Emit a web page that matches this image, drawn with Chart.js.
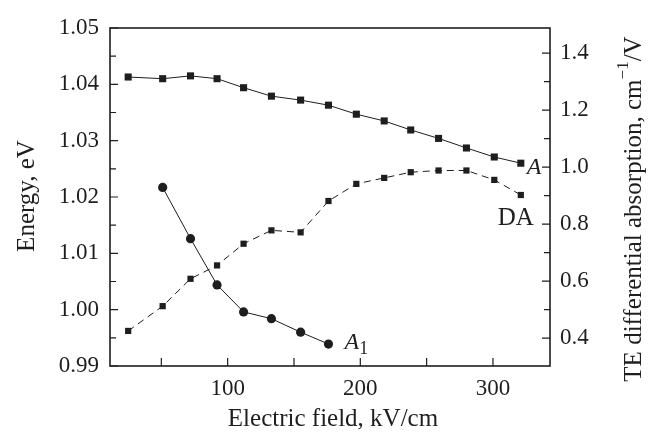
<!DOCTYPE html>
<html>
<head>
<meta charset="utf-8">
<script src="https://cdn.jsdelivr.net/npm/chart.js@4"></script>
<style>
  html, body { margin: 0; padding: 0; background: #fff; }
  #wrap { width: 652px; height: 436px; }
</style>
</head>
<body>
<div id="wrap"><canvas id="chart" width="652" height="436"></canvas></div>
<script>
// electric field, kV/cm
const fieldA = [25, 51, 72, 92, 112, 133, 155, 176, 197, 218, 238, 259, 280, 301, 321];
const fieldA1 = [51, 72, 92, 112, 133, 155, 176];
// energy, eV
const energyA = [1.0413, 1.0410, 1.0415, 1.0410, 1.0394, 1.0379, 1.0372, 1.0363, 1.0347, 1.0335, 1.0319, 1.0304, 1.0287, 1.0271, 1.0260];
const energyA1 = [1.0217, 1.0126, 1.0044, 0.9996, 0.9984, 0.9960, 0.9939];
// TE differential absorption, cm^-1/V
const absorptionDA = [0.425, 0.512, 0.608, 0.655, 0.731, 0.778, 0.771, 0.881, 0.941, 0.962, 0.982, 0.988, 0.988, 0.955, 0.902];

const xTicks = [100, 200, 300];
const xMinor = [50, 150, 250];
const leftTicks = [0.99, 1.00, 1.01, 1.02, 1.03, 1.04, 1.05];
const rightTicks = [0.4, 0.6, 0.8, 1.0, 1.2, 1.4];

const ink = '#1e1e1e';
const serif = '"Liberation Serif", "DejaVu Serif", serif';

const toPoints = (xs, ys) => xs.map((x, i) => ({ x: x, y: ys[i] }));
const midpoints = (arr) => arr.slice(1).map((v, i) => (v + arr[i]) / 2);

const frame = {
  id: 'frame',
  afterDraw(chart) {
    const { ctx, chartArea: a, scales } = chart;
    ctx.save();
    ctx.strokeStyle = ink;
    ctx.lineWidth = 1.6;
    ctx.strokeRect(a.left, a.top, a.right - a.left, a.bottom - a.top);
    ctx.lineWidth = 1.2;
    ctx.beginPath();
    const tick = (len) => (v) => {
      const px = scales.x.getPixelForValue(v);
      ctx.moveTo(px, a.bottom); ctx.lineTo(px, a.bottom - len);
    };
    xTicks.forEach(tick(8));
    xMinor.forEach(tick(8));
    const lt = (len) => (v) => {
      const py = scales.y.getPixelForValue(v);
      ctx.moveTo(a.left, py); ctx.lineTo(a.left + len, py);
    };
    leftTicks.forEach(lt(8));
    midpoints(leftTicks).forEach(lt(6));
    const rt = (len) => (v) => {
      const py = scales.y2.getPixelForValue(v);
      ctx.moveTo(a.right, py); ctx.lineTo(a.right - len, py);
    };
    rightTicks.forEach(rt(8));
    midpoints(rightTicks).forEach(rt(6));
    ctx.stroke();

    ctx.fillStyle = ink;
    // curve labels
    const lastA = chart.getDatasetMeta(0).data[fieldA.length - 1];
    const lastDA = chart.getDatasetMeta(1).data[fieldA.length - 1];
    const lastA1 = chart.getDatasetMeta(2).data[fieldA1.length - 1];
    ctx.textBaseline = 'alphabetic';
    ctx.textAlign = 'left';
    ctx.font = 'italic 24px ' + serif;
    ctx.fillText('A', lastA.x + 6, lastA.y + 11);
    ctx.font = '25px ' + serif;
    ctx.textAlign = 'center';
    ctx.fillText('DA', lastDA.x - 5, lastDA.y + 30);
    ctx.textAlign = 'left';
    ctx.font = 'italic 24px ' + serif;
    ctx.fillText('A', lastA1.x + 16, lastA1.y + 5);
    const w = ctx.measureText('A').width;
    ctx.font = '18px ' + serif;
    ctx.fillText('1', lastA1.x + 16 + w, lastA1.y + 10);

    // axis titles
    ctx.font = '25px ' + serif;
    ctx.textAlign = 'center';
    ctx.textBaseline = 'middle';
    ctx.fillText('Electric field, kV/cm', (a.left + a.right) / 2 + 3, 419);
    ctx.save();
    ctx.translate(27, 196);
    ctx.rotate(-Math.PI / 2);
    ctx.fillText('Energy, eV', 0, 0);
    ctx.restore();

    ctx.save();
    ctx.translate(634, 209);
    ctx.rotate(-Math.PI / 2);
    const p1 = 'TE differential absorption, cm';
    const p2 = '\u22121';
    const p3 = '/V';
    ctx.font = '25px ' + serif;
    const w1 = ctx.measureText(p1).width;
    const w3 = ctx.measureText(p3).width;
    ctx.font = '17px ' + serif;
    const w2 = ctx.measureText(p2).width;
    let x0 = -(w1 + w2 + w3) / 2;
    ctx.textAlign = 'left';
    ctx.font = '25px ' + serif;
    ctx.fillText(p1, x0, 0);
    ctx.font = '17px ' + serif;
    ctx.fillText(p2, x0 + w1, -10);
    ctx.font = '25px ' + serif;
    ctx.fillText(p3, x0 + w1 + w2, 0);
    ctx.restore();
    ctx.restore();
  }
};

new Chart(document.getElementById('chart'), {
  type: 'scatter',
  data: {
    datasets: [{
      label: 'A',
      data: toPoints(fieldA, energyA),
      yAxisID: 'y',
      showLine: true,
      borderColor: ink,
      backgroundColor: ink,
      borderWidth: 1,
      pointStyle: 'rect',
      pointRadius: 5,
      pointBorderWidth: 0
    }, {
      label: 'DA',
      data: toPoints(fieldA, absorptionDA),
      yAxisID: 'y2',
      showLine: true,
      borderColor: ink,
      backgroundColor: ink,
      borderWidth: 1,
      borderDash: [7, 5],
      pointStyle: 'rect',
      pointRadius: 4.4,
      pointBorderWidth: 0
    }, {
      label: 'A1',
      data: toPoints(fieldA1, energyA1),
      yAxisID: 'y',
      showLine: true,
      borderColor: ink,
      backgroundColor: ink,
      borderWidth: 1,
      pointStyle: 'circle',
      pointRadius: 4.6,
      pointBorderWidth: 0
    }]
  },
  options: {
    responsive: false,
    animation: false,
    layout: { padding: { top: 28, left: 0, right: 0, bottom: 0 } },
    plugins: { legend: { display: false }, tooltip: { enabled: false } },
    scales: {
      x: {
        type: 'linear',
        min: 11.3,
        max: 343,
        grid: { display: false, drawTicks: false },
        border: { display: false },
        afterBuildTicks: (s) => { s.ticks = xTicks.map(v => ({ value: v })); },
        afterFit: (s) => { s.height = 70; },
        ticks: {
          color: ink,
          padding: 9,
          maxRotation: 0,
          font: { family: serif, size: 23 },
          callback: (v) => String(v)
        }
      },
      y: {
        position: 'left',
        min: 0.99,
        max: 1.05,
        grid: { display: false, drawTicks: false },
        border: { display: false },
        afterBuildTicks: (s) => { s.ticks = leftTicks.map(v => ({ value: v })); },
        afterFit: (s) => { s.width = 110; },
        ticks: {
          color: ink,
          padding: 11,
          font: { family: serif, size: 23 },
          callback: (v) => Number(v).toFixed(2)
        }
      },
      y2: {
        position: 'right',
        min: 0.302,
        max: 1.488,
        grid: { display: false, drawTicks: false },
        border: { display: false },
        afterBuildTicks: (s) => { s.ticks = rightTicks.map(v => ({ value: v })); },
        afterFit: (s) => { s.width = 102; },
        ticks: {
          color: ink,
          padding: 10,
          font: { family: serif, size: 23 },
          callback: (v) => Number(v).toFixed(1)
        }
      }
    }
  },
  plugins: [frame]
});
</script>
</body>
</html>
